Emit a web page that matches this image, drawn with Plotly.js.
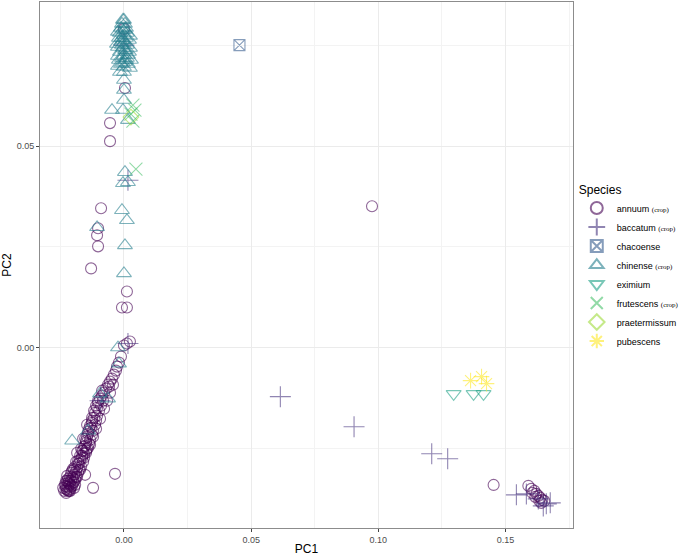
<!DOCTYPE html>
<html>
<head>
<meta charset="utf-8">
<script src="https://cdn.plot.ly/plotly-3.0.1.min.js"></script>
<style>html,body{margin:0;padding:0;background:#fff}#chart{width:685px;height:556px}</style>
</head>
<body>
<div id="chart"></div>
<script>
// ---- Data (PC1, PC2) per species ----
const annuumX = [0, 0.0004, -0.00548, -0.00548, -0.009, -0.01018, -0.01057, -0.01018, -0.01292, 0.00117, -0.00078, 0.00117, 0.00235, 0.00117, 0,
  0.0975, 0.1453, -0.01527, -0.01214, -0.00352,
  -0.00117, -0.00196, -0.00274, -0.00313, -0.00392, -0.0047, -0.00548, -0.00626, -0.00705, -0.00587, -0.00783, -0.00861, -0.0094, -0.00822, -0.01018, -0.009, -0.01057, -0.00979, -0.01135, -0.01057, -0.01175, -0.01096, -0.01253, -0.01135, -0.01292, -0.01214, -0.01409, -0.01253, -0.01449, -0.01331, -0.01488, -0.0137, -0.01527, -0.01449, -0.01605, -0.01488, -0.01644, -0.01566, -0.01723, -0.01605, -0.01762, -0.01683, -0.0184, -0.01723, -0.01879, -0.01801, -0.01958, -0.0184, -0.02036, -0.01918, -0.02075, -0.01997, -0.02153, -0.02036, -0.02192, -0.02114, -0.02271, -0.02192, -0.02349, -0.02271,
  -0.02232, -0.02114, -0.01958, -0.01801, -0.01644, -0.01488, -0.01331, -0.01214, -0.01096, -0.0094, -0.00783, -0.00666, -0.00548, -0.00431, -0.01409, -0.01566, -0.01762, -0.01918, -0.02075, -0.01879, -0.01683, -0.01527, -0.0137, -0.01253, -0.01096, -0.02192, -0.01997, -0.0231, -0.02114, -0.01958,
  -0.02271, -0.02232, -0.0231, -0.02153, -0.02114, -0.02075, -0.01997, -0.01958, -0.01879, -0.02232, -0.02036, -0.01918, -0.01801, -0.01723, -0.0184, -0.01644, -0.01566, -0.01488, -0.01605, -0.01409, -0.01331, -0.01449, -0.01253, -0.01175, -0.01018, -0.00861, -0.02271, -0.02153, -0.02388, -0.02192,
  0.15895, 0.16012, 0.1613, 0.16208, 0.16286, 0.16365, 0.16443, 0.16521, 0.16169, 0.16326, 0.16051, 0.16404];
const annuumY = [0.07912, 0.06444, 0.05573, 0.05125, 0.03458, 0.02961, 0.02787, 0.02513, 0.01966, 0.01393, 0.00995, 0.00995, 0.00149, 0.001, 0.0005,
  0.0351, -0.0341, -0.0316, -0.03483, -0.03135,
  -0.00224, -0.00373, -0.00473, -0.00572, -0.00672, -0.00771, -0.00846, -0.00921, -0.0102, -0.0097, -0.0112, -0.01194, -0.01269, -0.01319, -0.01368, -0.01443, -0.01493, -0.01567, -0.01617, -0.01692, -0.01742, -0.01816, -0.01866, -0.01916, -0.0199, -0.02065, -0.0209, -0.02165, -0.02214, -0.02289, -0.02314, -0.02388, -0.02438, -0.02513, -0.02563, -0.02612, -0.02687, -0.02737, -0.02787, -0.02836, -0.02886, -0.02961, -0.02986, -0.03035, -0.03085, -0.0311, -0.0316, -0.0321, -0.03234, -0.03284, -0.03309, -0.03359, -0.03384, -0.03433, -0.03458, -0.03508, -0.03508, -0.03558, -0.03558, -0.03608,
  -0.03309, -0.0321, -0.03035, -0.02886, -0.02737, -0.02563, -0.02413, -0.02214, -0.02015, -0.01766, -0.01518, -0.01319, -0.0112, -0.00921, -0.02488, -0.02637, -0.03035, -0.03409, -0.0311, -0.02836, -0.02513, -0.02264, -0.02015, -0.01742, -0.01443, -0.03259, -0.0301, -0.03433, -0.03558, -0.03483,
  -0.03458, -0.03533, -0.03384, -0.03309, -0.03409, -0.03458, -0.03259, -0.03334, -0.0321, -0.03185, -0.0306, -0.02961, -0.02811, -0.02687, -0.02612, -0.02563, -0.02463, -0.02364, -0.02264, -0.0214, -0.01941, -0.01916, -0.01816, -0.01567, -0.01319, -0.0107, -0.03309, -0.03558, -0.03483, -0.03359,
  -0.03433, -0.03508, -0.03558, -0.03633, -0.03682, -0.03732, -0.03782, -0.03807, -0.03707, -0.03807, -0.03608, -0.03856];

const baccatumX = [0.06147, 0.09044, 0.12097, 0.12724, 0.15425, 0.15817, 0.166, 0.16756, 0.16482, 0.16286, 0.00157, 0.00157, 0, -0.0094];
const baccatumY = [-0.01219, -0.01966, -0.02637, -0.02762, -0.03657, -0.03633, -0.03881, -0.03856, -0.03931, -0.03757, 0.001, 0.04155, 0.0751, -0.0132];

const chacoenseX = [0.0454];
const chacoenseY = [0.0751];

const chinenseX = [-0.00039, 0, -0.00078, 0.00039, -0.00117, 0.00078, -0.00039, -0.00157, 0.00117, 0, -0.00196, -0.00078, 0.00078, 0.00196, -0.00117, 0, 0.00117, -0.00235, -0.00039, 0.00078, -0.00157, 0.00196, 0, -0.00078, 0.00117, -0.00196, 0.00039, -0.00117, 0.00157, 0, 0.00235, -0.00235,
  -0.00235, 0.00235, -0.00274, 0.00235, 0.00157, -0.00235, 0.00274, 0.00039, -0.00039, 0.00039, -0.00078, 0.00078, -0.00039,
  0, -0.00157, 0, 0, 0, -0.0047, -0.00039, 0.00157, 0.00039, 0.00157, -0.00039, -0.00078, 0.00117, -0.01057, 0.00039, 0, -0.00235, -0.00196, -0.00626, -0.0094, -0.02036, -0.01409];
const chinenseY = [0.08136, 0.08136, 0.08036, 0.08036, 0.07937, 0.07937, 0.07887, 0.07812, 0.07812, 0.07763, 0.07688, 0.07688, 0.07688, 0.07638, 0.07588, 0.07564, 0.07514, 0.07464, 0.07439, 0.07389, 0.0734, 0.0734, 0.07265, 0.0719, 0.0719, 0.07141, 0.07091, 0.07041, 0.07041, 0.06966, 0.06942, 0.06991,
  0.07837, 0.07738, 0.07539, 0.07439, 0.07265, 0.0724, 0.07141, 0.07887, 0.07638, 0.07389, 0.07514, 0.07141, 0.07066,
  0.06842, 0.06842, 0.06643, 0.06394, 0.06145, 0.05897, 0.05897, 0.05648, 0.04354, 0.04105, 0.0408, 0.03409, 0.0316, 0.02986, 0.02538, 0.01841, 0, -0.00398, -0.01269, -0.01144, -0.02314, -0.02065];

const eximiumX = [0.12959, 0.13742, 0.14133];
const eximiumY = [-0.0115, -0.0115, -0.0115];

const frutescensX = [0.00352, 0.00431, 0.00274, 0.00352, 0.0047];
const frutescensY = [0.06021, 0.05897, 0.05797, 0.05623, 0.04429];

const praetermissumX = [0.00274];
const praetermissumY = [0.05722];

const pubescensX = [0.13624, 0.14055, 0.14251];
const pubescensY = [-0.00821, -0.00722, -0.00896];

const speciesNames = ['annuum', 'baccatum', 'chacoense', 'chinense', 'eximium', 'frutescens', 'praetermissum', 'pubescens'];
const cropFlags = [true, true, false, true, false, true, false, false];
const seriesX = [annuumX, baccatumX, chacoenseX, chinenseX, eximiumX, frutescensX, praetermissumX, pubescensX];
const seriesY = [annuumY, baccatumY, chacoenseY, chinenseY, eximiumY, frutescensY, praetermissumY, pubescensY];
const xTicks = [0, 0.05, 0.10, 0.15];
const xTickLabels = ['0.00', '0.05', '0.10', '0.15'];
const yTicks = [0, 0.05];
const yTickLabels = ['0.00', '0.05'];

// ---- Styling ----
const colors = ['#440154', '#46337E', '#365C8D', '#277F8E', '#1FA187', '#4AC16D', '#9FDA3A', '#FDE725'];
const symbols = ['circle-open', 'cross-thin-open', 'square-x-open', 'triangle-up-open', 'triangle-down-open', 'x-thin-open', 'diamond-open', 'asterisk-open'];
const sizes = [11, 15, 11, 13, 13, 13, 12, 13];

const traces = speciesNames.map((n, i) => ({
  type: 'scatter', mode: 'markers',
  x: seriesX[i], y: seriesY[i],
  name: cropFlags[i] ? n + ' <span style="font-family:\'Liberation Serif\';font-size:7px">(crop)</span>' : n,
  marker: { symbol: symbols[i], size: sizes[i], color: colors[i], opacity: 0.6,
            line: { color: colors[i], width: 1.1 } },
  hoverinfo: 'x+y+name'
}));

const gridCol = '#ebebeb';
const layout = {
  width: 685, height: 556,
  margin: { l: 40, r: 112, t: 2, b: 28 },
  paper_bgcolor: '#ffffff', plot_bgcolor: '#ffffff',
  font: { family: 'Liberation Sans, Arial, sans-serif', color: '#000' },
  showlegend: true,
  xaxis: {
    range: [-0.033, 0.1765], tickvals: xTicks, ticktext: xTickLabels,
    showgrid: true, gridcolor: gridCol, gridwidth: 1,
    minor: { dtick: 0.025, tick0: 0, showgrid: true, gridcolor: '#f3f3f3', gridwidth: 1 },
    zeroline: false, showline: true, linecolor: '#8c8c8c', linewidth: 1, mirror: true,
    ticks: 'outside', ticklen: 3, tickcolor: '#444', tickwidth: 1,
    tickfont: { size: 9, color: '#4d4d4d' },
    title: { text: 'PC1', font: { size: 12, color: '#000' }, standoff: 6 }
  },
  yaxis: {
    range: [-0.0448, 0.0858], tickvals: yTicks, ticktext: yTickLabels,
    showgrid: true, gridcolor: gridCol, gridwidth: 1,
    minor: { dtick: 0.025, tick0: 0, showgrid: true, gridcolor: '#f3f3f3', gridwidth: 1 },
    zeroline: false, showline: true, linecolor: '#8c8c8c', linewidth: 1, mirror: true,
    ticks: 'outside', ticklen: 3, tickcolor: '#444', tickwidth: 1,
    tickfont: { size: 9, color: '#4d4d4d' },
    title: { text: 'PC2', font: { size: 12, color: '#000' }, standoff: 6 }
  },
  legend: {
    xref: 'container', yref: 'container', x: 0.842, y: 0.68, xanchor: 'left', yanchor: 'top',
    title: { text: 'Species', font: { size: 12, color: '#000' } },
    font: { size: 9, color: '#000' }, bgcolor: 'rgba(0,0,0,0)', tracegroupgap: 0, itemsizing: 'constant',
    itemwidth: 30
  }
};

Plotly.newPlot('chart', traces, layout, { displayModeBar: false, staticPlot: true });
</script>
</body>
</html>
